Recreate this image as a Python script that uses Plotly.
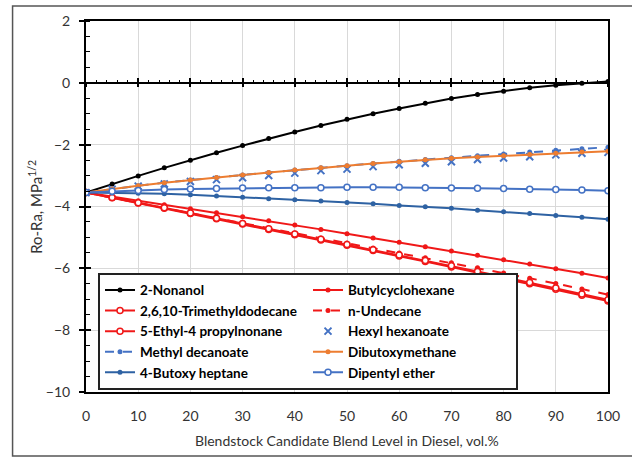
import plotly.graph_objects as go

blend_level = [0, 5, 10, 15, 20, 25, 30, 35, 40, 45, 50, 55, 60, 65, 70, 75, 80, 85, 90, 95, 100]

nonanol = [-3.55, -3.27, -3.01, -2.75, -2.50, -2.26, -2.03, -1.80, -1.59, -1.38, -1.18,
           -1.00, -0.83, -0.66, -0.51, -0.38, -0.27, -0.16, -0.08, -0.01, 0.04]
butylcyclohexane = [-3.55, -3.68, -3.81, -3.94, -4.07, -4.20, -4.33, -4.46, -4.60, -4.74, -4.88,
                    -5.02, -5.16, -5.30, -5.44, -5.58, -5.72, -5.86, -6.01, -6.16, -6.31]
trimethyldodecane = [-3.55, -3.72, -3.89, -4.06, -4.23, -4.40, -4.57, -4.74, -4.91, -5.08, -5.25,
                     -5.42, -5.60, -5.78, -5.96, -6.14, -6.32, -6.50, -6.68, -6.87, -7.06]
undecane = [-3.55, -3.72, -3.88, -4.05, -4.21, -4.38, -4.54, -4.70, -4.86, -5.02, -5.18,
            -5.34, -5.50, -5.66, -5.82, -5.98, -6.15, -6.32, -6.49, -6.67, -6.85]
ethylpropylnonane = [-3.55, -3.71, -3.88, -4.04, -4.21, -4.38, -4.55, -4.72, -4.89, -5.06, -5.23,
                     -5.40, -5.57, -5.75, -5.92, -6.10, -6.28, -6.46, -6.64, -6.83, -7.02]
hexyl_hexanoate = [-3.55, -3.44, -3.34, -3.27, -3.19, -3.13, -3.07, -3.00, -2.92, -2.84, -2.79,
                   -2.71, -2.65, -2.60, -2.55, -2.48, -2.43, -2.39, -2.33, -2.28, -2.25]
methyl_decanoate = [-3.55, -3.43, -3.33, -3.23, -3.14, -3.06, -2.98, -2.90, -2.82, -2.75, -2.68,
                    -2.61, -2.54, -2.48, -2.42, -2.36, -2.30, -2.24, -2.18, -2.13, -2.08]
dibutoxymethane = [-3.55, -3.43, -3.33, -3.23, -3.14, -3.06, -2.98, -2.90, -2.82, -2.75, -2.68,
                   -2.61, -2.55, -2.49, -2.44, -2.40, -2.36, -2.32, -2.28, -2.24, -2.21]
butoxy_heptane = [-3.55, -3.56, -3.57, -3.59, -3.62, -3.66, -3.70, -3.75, -3.78, -3.82, -3.87,
                  -3.91, -3.97, -4.01, -4.06, -4.12, -4.17, -4.23, -4.29, -4.35, -4.41]
dipentyl_ether = [-3.55, -3.51, -3.48, -3.45, -3.43, -3.42, -3.40, -3.39, -3.39, -3.39, -3.38,
                  -3.38, -3.38, -3.39, -3.40, -3.41, -3.42, -3.44, -3.45, -3.47, -3.49]

x_ticks = [0, 10, 20, 30, 40, 50, 60, 70, 80, 90, 100]
y_ticks = [-10, -8, -6, -4, -2, 0, 2]

RED = "#f01818"
BLUE = "#4472c4"
DBLUE = "#2e62a3"
ORANGE = "#ed7d31"

series = [
    ("2-Nonanol", nonanol, dict(color="black", width=2), dict(symbol="circle", size=5, color="black"), "lines+markers"),
    ("Butylcyclohexane", butylcyclohexane, dict(color=RED, width=2), dict(symbol="circle", size=5, color=RED), "lines+markers"),
    ("2,6,10-Trimethyldodecane", trimethyldodecane, dict(color=RED, width=2),
     dict(symbol="circle", size=6, color="white", line=dict(color=RED, width=1.5)), "lines+markers"),
    ("n-Undecane", undecane, dict(color=RED, width=2, dash="dash"), dict(symbol="circle", size=5, color=RED), "lines+markers"),
    ("5-Ethyl-4 propylnonane", ethylpropylnonane, dict(color=RED, width=2),
     dict(symbol="circle", size=6, color="white", line=dict(color=RED, width=1.5)), "lines+markers"),
    ("Hexyl hexanoate", hexyl_hexanoate, dict(color=BLUE, width=2),
     dict(symbol="x-thin-open", size=7, color=BLUE, line=dict(color=BLUE, width=2)), "markers"),
    ("Methyl decanoate", methyl_decanoate, dict(color=BLUE, width=2, dash="dash"), dict(symbol="circle", size=5, color=BLUE), "lines+markers"),
    ("Dibutoxymethane", dibutoxymethane, dict(color=ORANGE, width=2), dict(symbol="circle", size=5, color=ORANGE), "lines+markers"),
    ("4-Butoxy heptane", butoxy_heptane, dict(color=DBLUE, width=2), dict(symbol="circle", size=5, color=DBLUE), "lines+markers"),
    ("Dipentyl ether", dipentyl_ether, dict(color=BLUE, width=2),
     dict(symbol="circle", size=6, color="white", line=dict(color=BLUE, width=1.5)), "lines+markers"),
]

fig = go.Figure()
for name, vals, line, marker, mode in series:
    fig.add_trace(go.Scatter(x=blend_level, y=vals, name=name, mode=mode, line=line, marker=marker))

# dummy traces so auxiliary tick axes are drawn
fig.add_trace(go.Scatter(x=[None], y=[None], xaxis="x2", yaxis="y", showlegend=False, hoverinfo="skip"))
fig.add_trace(go.Scatter(x=[None], y=[None], xaxis="x3", yaxis="y", showlegend=False, hoverinfo="skip"))
fig.add_trace(go.Scatter(x=[None], y=[None], xaxis="x", yaxis="y2", showlegend=False, hoverinfo="skip"))

tickfont = dict(family="Lato", size=14, color="#333333")

fig.update_layout(
    width=632, height=459,
    margin=dict(l=86, r=20, t=21, b=67),
    paper_bgcolor="white", plot_bgcolor="white",
    font=dict(family="Lato", size=13, color="#333333"),
    xaxis=dict(range=[0, 100], tickvals=x_ticks, showgrid=True, gridcolor="#d9d9d9", gridwidth=1,
               showline=True, linecolor="black", linewidth=2, mirror=True, zeroline=False,
               ticks="outside", ticklen=10, tickcolor="rgba(0,0,0,0)", tickfont=tickfont),
    xaxis2=dict(range=[0, 100], overlaying="x", anchor="free", position=10 / 12, side="bottom",
                tickvals=x_ticks, ticks="inside", ticklen=5, tickwidth=1.5, tickcolor="black",
                minor=dict(dtick=2, ticks="inside", ticklen=3, tickwidth=1, tickcolor="black"),
                showticklabels=False, showgrid=False, zeroline=False, showline=False),
    xaxis3=dict(range=[0, 100], overlaying="x", anchor="free", position=10 / 12, side="bottom",
                tickvals=x_ticks, ticks="outside", ticklen=3, tickwidth=1.5, tickcolor="black",
                showticklabels=False, showgrid=False, zeroline=False, showline=False),
    yaxis=dict(range=[-10, 2], tickvals=y_ticks, showgrid=True, gridcolor="#d9d9d9", gridwidth=1,
               showline=True, linecolor="black", linewidth=2, mirror=True,
               zeroline=True, zerolinecolor="black", zerolinewidth=2,
               ticks="outside", ticklen=5, tickwidth=1.5, tickcolor="black",
               minor=dict(dtick=0.5, ticks="inside", ticklen=4, tickwidth=1, tickcolor="black"),
               ticklabelstandoff=6, tickfont=tickfont),
    yaxis2=dict(range=[-10, 2], overlaying="y", side="left", tickvals=y_ticks, ticks="inside", ticklen=5,
                tickwidth=1.5, tickcolor="black", showticklabels=False, showgrid=False,
                zeroline=False, showline=False),
    legend=dict(orientation="h", x=0.023, y=0.006, xanchor="left", yanchor="bottom",
                bgcolor="white", bordercolor="#222222", borderwidth=2,
                font=dict(family="Lato", size=13.5, color="black", weight="bold"),
                itemwidth=30, entrywidth=163, entrywidthmode="pixels", traceorder="normal",
                tracegroupgap=0),
    showlegend=True,
    annotations=[
        dict(text="Ro-Ra, MPa<sup>1/2</sup>", xref="paper", yref="paper", x=-0.097,
             y=0.5, textangle=-90, showarrow=False, xanchor="center", yanchor="middle",
             font=dict(family="Lato", size=15, color="#333333")),
        dict(text="Blendstock Candidate Blend Level in Diesel, vol.%", xref="paper", yref="paper",
             x=0.5, y=-0.132, showarrow=False, xanchor="center", yanchor="middle",
             font=dict(family="Lato", size=14, color="#333333")),
    ],
    shapes=[
        dict(type="rect", xref="paper", yref="paper", x0=(12 - 86) / 526, x1=(640 - 86) / 526,
             y0=(392 - 456) / 371, y1=(392 - 6) / 371, line=dict(color="#555555", width=1.5),
             fillcolor="rgba(0,0,0,0)", layer="below"),
    ],
)

fig.write_html("out.html")
